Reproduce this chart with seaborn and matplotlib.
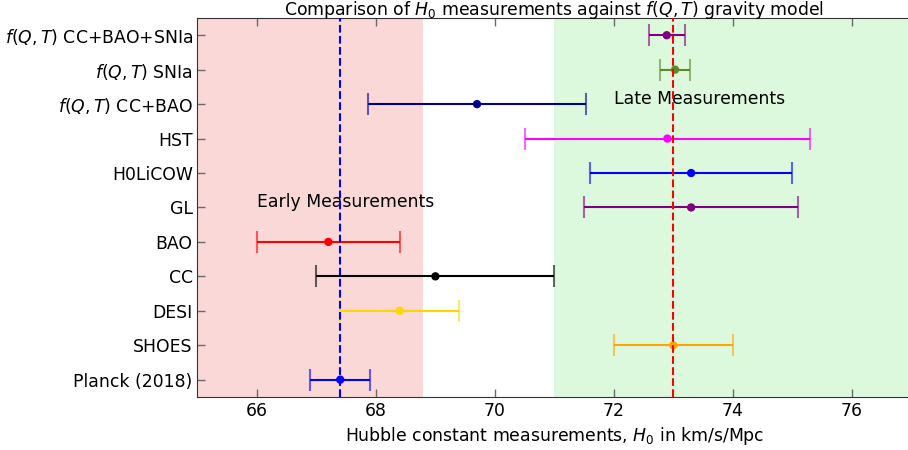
import matplotlib
matplotlib.use("Agg")
import matplotlib.pyplot as plt
import seaborn as sns
import pandas as pd

# Measurements, listed bottom to top
labels = ["Planck (2018)", "SHOES", "DESI", "CC", "BAO", "GL", "H0LiCOW", "HST",
          r"$f(Q,T)$ CC+BAO", r"$f(Q,T)$ SNIa", r"$f(Q,T)$ CC+BAO+SNIa"]
h0_values = [67.4, 73.0, 68.4, 69.0, 67.2, 73.3, 73.3, 72.9, 69.7, 73.03, 72.89]
h0_errors = [0.5, 1.0, 1.0, 2.0, 1.2, 1.8, 1.7, 2.4, 1.83, 0.25, 0.3]
colors = ["blue", "orange", "gold", "black", "red", "purple", "blue", "magenta",
          "darkblue", "#5b8c2a", "purple"]

early_range = (65.0, 68.8)
late_range = (71.0, 77.0)
planck_ref = 67.4
shoes_ref = 73.0

df = pd.DataFrame({"label": labels, "H0": h0_values, "err": h0_errors,
                   "pos": range(len(labels))})

FS = 12.4

sns.set_style("ticks")
plt.rcParams["font.family"] = ["DejaVu Sans"]
plt.rcParams["mathtext.fontset"] = "dejavusans"
for key in ["text.color", "axes.labelcolor", "xtick.labelcolor", "ytick.labelcolor"]:
    plt.rcParams[key] = "black"

fig = plt.figure(figsize=(9.08, 4.5), dpi=100)
ax = fig.add_axes([0.2175, 0.118, 0.786, 0.842])

ax.axvspan(*early_range, color="lightcoral", alpha=0.3, lw=0, zorder=0)
ax.axvspan(*late_range, color="lightgreen", alpha=0.3, lw=0, zorder=0)

for _, row in df.iterrows():
    c = colors[row["pos"]]
    eb = ax.errorbar(row["H0"], row["pos"], xerr=row["err"], fmt="none",
                     ecolor=c, elinewidth=1.5, capsize=8, capthick=1.5, zorder=2)
    for cap in eb[1]:
        cap.set_alpha(0.6)

sns.scatterplot(data=df, x="H0", y="pos", hue="label", palette=colors,
                s=36, edgecolor="none", legend=False, ax=ax, zorder=3)

ax.axvline(planck_ref, color="blue", ls="--", lw=1.5, zorder=4)
ax.axvline(shoes_ref, color="red", ls="--", lw=1.5, zorder=4)

ax.text(66.0, 5.17, "Early Measurements", fontsize=FS, va="center", ha="left")
ax.text(72.0, 8.15, "Late Measurements", fontsize=FS, va="center", ha="left")

ax.set_xlim(65, 77)
ax.set_ylim(-0.5, 10.5)
ax.set_xticks([66, 68, 70, 72, 74, 76])
ax.set_yticks(df["pos"])
ax.set_yticklabels(labels)
ax.tick_params(axis="both", direction="in", length=6, width=1,
               color="dimgray", labelsize=FS, labelcolor="black", top=True)
for sp in ax.spines.values():
    sp.set_color("#333333")
ax.set_xlabel(r"Hubble constant measurements, $H_0$ in km/s/Mpc", fontsize=FS)
ax.set_ylabel("")
ax.set_title(r"Comparison of $H_0$ measurements against $f(Q,T)$ gravity model",
             fontsize=FS, pad=2)

fig.savefig("out.png", dpi=100)
